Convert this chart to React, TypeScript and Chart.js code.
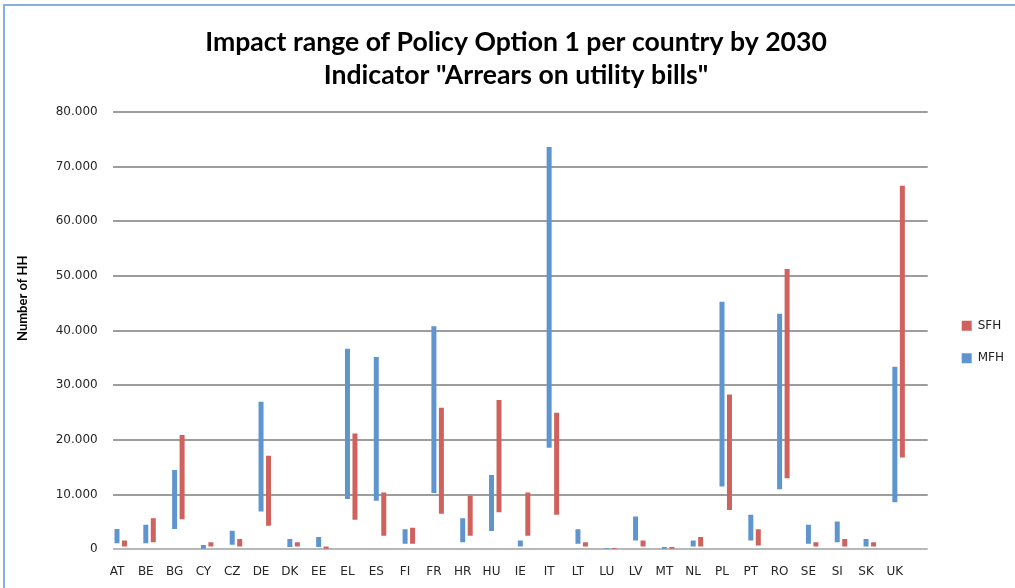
import { useEffect, useRef } from 'react';
import { Chart, registerables } from 'chart.js';

Chart.register(...registerables);

const countries = ['AT', 'BE', 'BG', 'CY', 'CZ', 'DE', 'DK', 'EE', 'EL', 'ES', 'FI', 'FR', 'HR', 'HU', 'IE', 'IT', 'LT', 'LU', 'LV', 'MT', 'NL', 'PL', 'PT', 'RO', 'SE', 'SI', 'SK', 'UK'];

// MFH range (number of households)
const mfhLow = [1100, 1100, 3700, 100, 850, 6900, 400, 400, 9200, 8900, 1000, 10300, 1300, 3350, 500, 18600, 1000, 50, 1600, 100, 500, 11500, 1600, 11000, 1000, 1300, 500, 8600];
const mfhHigh = [3700, 4500, 14500, 800, 3400, 27000, 1900, 2250, 36700, 35200, 3660, 40800, 5700, 13600, 1600, 73600, 3660, 200, 6000, 400, 1600, 45300, 6300, 43100, 4500, 5100, 1900, 33400];

// SFH range (number of households)
const sfhLow = [500, 1300, 5500, 500, 500, 4300, 500, 100, 5400, 2500, 1000, 6500, 2500, 6800, 2500, 6300, 500, 50, 500, 100, 500, 7200, 700, 13000, 500, 500, 500, 16800];
const sfhHigh = [1600, 5700, 20900, 1300, 1900, 17100, 1300, 500, 21200, 10400, 3960, 25900, 9800, 27300, 10400, 25000, 1300, 200, 1600, 400, 2250, 28300, 3660, 51300, 1300, 1900, 1300, 66500];

const seriesNames = ['MFH', 'SFH'];
const titleLines = ['Impact range of Policy Option 1 per country by 2030', 'Indicator "Arrears on utility bills"'];
const yAxisTitle = 'Number of HH';
const yMin = 0;
const yMax = 80000;
const yStep = 10000;

const fmt = (v: number) => String(Math.round(v)).replace(/\B(?=(\d{3})+(?!\d))/g, '.');

// Draws the rotated y-axis title at the left edge of the chart
const yTitlePlugin = {
  id: 'yTitle',
  afterDraw(chart: any) {
    const { ctx } = chart;
    ctx.save();
    ctx.translate(22.5, 341);
    ctx.rotate(-Math.PI / 2);
    ctx.font = 'bold 13px Lato';
    ctx.fillStyle = '#000';
    ctx.textAlign = 'left';
    ctx.textBaseline = 'middle';
    ctx.fillText(yAxisTitle, 0, 0);
    ctx.restore();
  },
};

export default function App() {
  const ref = useRef<HTMLCanvasElement | null>(null);

  useEffect(() => {
    if (!ref.current) return;
    const chart = new Chart(ref.current, {
      type: 'bar',
      data: {
        datasets: [
          {
            label: seriesNames[0],
            data: countries.map((_, i) => ({ x: i, y: [mfhLow[i], mfhHigh[i]] })) as any,
            backgroundColor: '#5f95cf',
            borderWidth: 0,
            categoryPercentage: 0.52,
            barPercentage: 0.667,
          },
          {
            label: seriesNames[1],
            data: countries.map((_, i) => ({ x: i, y: [sfhLow[i], sfhHigh[i]] })) as any,
            backgroundColor: '#d0625d',
            borderWidth: 0,
            categoryPercentage: 0.52,
            barPercentage: 0.667,
          },
        ],
      },
      plugins: [yTitlePlugin],
      options: {
        responsive: false,
        animation: false,
        devicePixelRatio: 1,
        layout: { padding: { left: 19, right: 1.9, top: 0, bottom: 0 } },
        plugins: {
          tooltip: { enabled: false },
          title: {
            display: true,
            text: titleLines,
            color: '#000',
            font: { family: 'Lato', size: 26.6, weight: 'bold', lineHeight: 33 / 26.6 },
            padding: { top: 26, bottom: 20 },
          },
          legend: {
            position: 'right',
            fullSize: false,
            reverse: true,
            maxWidth: 72,
            labels: {
              boxWidth: 10,
              boxHeight: 10,
              padding: 20.6,
              color: '#222',
              font: { family: 'DejaVu Sans', size: 12 },
            },
            title: {
              display: true,
              text: ' ',
              font: { size: 12, lineHeight: 1.2 },
              padding: { top: 8.3, bottom: 0 },
            },
          },
        },
        scales: {
          x: {
            type: 'linear',
            offset: false,
            min: -0.279,
            max: 28.01,
            grid: { display: false, drawTicks: false },
            border: { display: false },
            ticks: {
              stepSize: 1,
              autoSkip: false,
              includeBounds: false,
              maxRotation: 0,
              minRotation: 0,
              labelOffset: -3.75,
              padding: 15,
              color: '#262626',
              font: { family: 'DejaVu Sans', size: 12 },
              callback: (v: any) => (Number.isInteger(v) && countries[v] ? countries[v] : ''),
            },
            afterFit: (s: any) => {
              s.height = 38.7;
            },
          },
          y: {
            type: 'linear',
            min: yMin,
            max: yMax,
            grid: {
              drawTicks: false,
              lineWidth: 2,
              color: (ctx: any) => (ctx.tick && ctx.tick.value === 0 ? '#b8b8b8' : '#9d9d9d'),
            },
            border: { display: false },
            ticks: {
              stepSize: yStep,
              padding: 15,
              color: '#262626',
              font: { family: 'DejaVu Sans', size: 12 },
              callback: (v: any) => fmt(Number(v)),
            },
            afterFit: (s: any) => {
              s.width = 93.7;
            },
          },
          y2: {
            type: 'linear',
            position: 'right',
            display: true,
            grid: { display: false },
            border: { display: false },
            ticks: { display: false },
            afterFit: (s: any) => {
              s.width = 13.4;
            },
          },
        },
      } as any,
    });
    return () => chart.destroy();
  }, []);

  return (
    <div style={{ position: 'absolute', left: 0, top: 0, width: 1015, height: 588, background: '#fff', overflow: 'hidden' }}>
      <div
        style={{
          position: 'absolute',
          left: 3,
          top: 4,
          width: 1030,
          height: 600,
          borderLeft: '2px solid #86b0de',
          borderTop: '2px solid #86b0de',
        }}
      />
      <canvas ref={ref} width={1015} height={588} style={{ position: 'absolute', left: 0, top: 0, width: 1015, height: 588 }} />
    </div>
  );
}
